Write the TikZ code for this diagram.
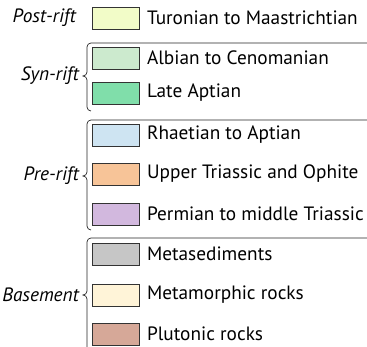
\documentclass[tikz,border=0pt]{standalone}
\usepackage{fontspec}
\setmainfont{PT Sans}
\definecolor{turonian}{RGB}{242,252,200}
\definecolor{albian}{RGB}{204,234,206}
\definecolor{lateaptian}{RGB}{128,222,170}
\definecolor{rhaetian}{RGB}{206,228,242}
\definecolor{uppertrias}{RGB}{247,196,152}
\definecolor{permian}{RGB}{210,184,222}
\definecolor{metased}{RGB}{198,198,198}
\definecolor{metamorph}{RGB}{255,244,216}
\definecolor{plutonic}{RGB}{214,168,152}
\usetikzlibrary{positioning}

\begin{document}
\begin{tikzpicture}[x=1pt, y=-1pt,
  swatch/.style={draw=black!80, line width=0.7pt, minimum width=47pt,
    minimum height=22pt, inner sep=0pt},
  unit/.style={font=\fontsize{19.3}{22}\selectfont, inner sep=0pt},
  group/.style={font=\fontsize{19.3}{22}\selectfont\itshape, inner sep=0pt, anchor=east},
  bracket/.style={draw=black!85, line width=0.7pt},
  node distance=7pt,
]
  \useasboundingbox (0,0) rectangle (367,347);
  % post-rift
  \node[swatch, fill=turonian] (turon) at (116,18) {};
  \node[unit, right=of turon] (turontxt) {Turonian to Maastrichtian};
  \node[group] (post) at (76,18) {Post-rift};
  % syn-rift
  \node[swatch, fill=albian] (albian) at (116,58) {};
  \node[unit, right=of albian] (albiantxt) {Albian to Cenomanian};
  \node[swatch, fill=lateaptian] (aptian) at (116,93) {};
  \node[unit, right=of aptian] (aptiantxt) {Late Aptian};
  \node[group] (syn) at (79,76) {Syn-rift};
  % pre-rift
  \node[swatch, fill=rhaetian] (rhaet) at (116,135) {};
  \node[unit, right=of rhaet] (rhaettxt) {Rhaetian to Aptian};
  \node[swatch, fill=uppertrias] (trias) at (116,174) {};
  \node[unit, right=of trias] (triastxt) {Upper Triassic and Ophite};
  \node[swatch, fill=permian] (perm) at (116,214) {};
  \node[unit, right=of perm] (permtxt) {Permian to middle Triassic};
  \node[group] (pre) at (79,176) {Pre-rift};
  % basement
  \node[swatch, fill=metased] (msed) at (116,254) {};
  \node[unit, right=of msed] (msedtxt) {Metasediments};
  \node[swatch, fill=metamorph] (mmor) at (116,295) {};
  \node[unit, right=of mmor] (mmortxt) {Metamorphic rocks};
  \node[swatch, fill=plutonic] (pluto) at (116,334) {};
  \node[unit, right=of pluto] (plutotxt) {Plutonic rocks};
  \node[group] (base) at (79,295) {Basement};
  % brackets
  \draw[bracket] (367,43) -- (91,43) to[out=180,in=90] (87,47) -- (87,72)
    to[out=-90,in=0] (83,76) to[out=0,in=90] (87,80) -- (87,107) to[out=-90,in=180] (91,111);
  \draw[bracket] (367,120) -- (91,120) to[out=180,in=90] (87,124) -- (87,172)
    to[out=-90,in=0] (83,176) to[out=0,in=90] (87,180) -- (87,226) to[out=-90,in=180] (91,230);
  \draw[bracket] (367,238) -- (91,238) to[out=180,in=90] (87,242) -- (87,291)
    to[out=-90,in=0] (83,295) to[out=0,in=90] (87,299) -- (87,350);
\end{tikzpicture}
\end{document}
